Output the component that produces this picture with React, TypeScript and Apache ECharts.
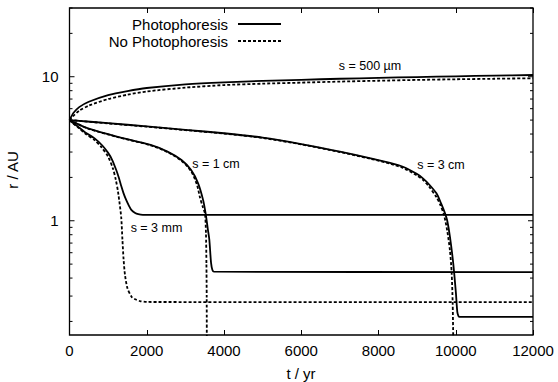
import React, { useEffect, useRef } from 'react';
import * as echarts from 'echarts';

// time axis (yr) and radius axis (AU) settings
const T_MAX = 12000;
const T_STEP = 2000;
const R_MIN = 0.161;
const R_MAX = 30;
const rMajorTicks = [1, 10];
const rMinorTicks = [0.2, 0.3, 0.4, 0.5, 0.6, 0.7, 0.8, 0.9, 2, 3, 4, 5, 6, 7, 8, 9, 20, 30];

// s = 500 µm
const t500Photo = [0, 50, 100, 250, 500, 1000, 1500, 2000, 3000, 4000, 5000, 6000, 7000, 8000, 9000, 10000, 11000, 12000];
const r500Photo = [5, 5.3, 5.6, 6.15, 6.7, 7.45, 7.95, 8.35, 8.85, 9.15, 9.35, 9.52, 9.68, 9.82, 9.95, 10.07, 10.18, 10.28];
const t500NoPhoto = [0, 50, 100, 250, 500, 1000, 1500, 2000, 3000, 4000, 5000, 6000, 7000, 8000, 9000, 10000, 11000, 12000];
const r500NoPhoto = [5, 5.18, 5.35, 5.8, 6.3, 7.0, 7.5, 7.9, 8.4, 8.75, 8.95, 9.1, 9.25, 9.38, 9.5, 9.6, 9.68, 9.76];

// s = 3 cm
const t3cmPhoto = [0, 1000, 2000, 3000, 4000, 5000, 6000, 7000, 7800, 8300, 8633, 9000, 9150, 9300, 9500, 9620, 9720, 9780, 9850, 9935, 10005, 10040, 10070, 10100, 12000];
const r3cmPhoto = [5, 4.76, 4.52, 4.28, 4.05, 3.78, 3.41, 3.02, 2.71, 2.52, 2.37, 2.11, 1.97, 1.8, 1.55, 1.32, 1.13, 1.0, 0.774, 0.506, 0.313, 0.233, 0.218, 0.215, 0.215];
const t3cmNoPhoto = [0, 1000, 2000, 3000, 4000, 5000, 6000, 7000, 7800, 8300, 8633, 9000, 9150, 9300, 9500, 9600, 9695, 9780, 9850, 9893, 9920, 9935, 9945];
const r3cmNoPhoto = [5, 4.74, 4.5, 4.26, 4.03, 3.76, 3.39, 3.0, 2.69, 2.49, 2.33, 2.06, 1.92, 1.74, 1.46, 1.29, 1.1, 0.85, 0.62, 0.44, 0.27, 0.15, 0.08];

// s = 1 cm
const t1cmPhoto = [0, 220, 500, 1250, 2100, 2550, 2900, 3150, 3330, 3460, 3530, 3580, 3620, 3665, 3700, 3740, 12000];
const r1cmPhoto = [5, 4.69, 4.36, 3.83, 3.36, 3.01, 2.64, 2.25, 1.82, 1.39, 1.1, 0.88, 0.74, 0.51, 0.455, 0.443, 0.44];
const t1cmNoPhoto = [0, 220, 500, 1250, 2100, 2550, 2900, 3150, 3300, 3378, 3450, 3508, 3533, 3545, 3552, 3556];
const r1cmNoPhoto = [5, 4.68, 4.34, 3.81, 3.34, 2.99, 2.61, 2.2, 1.78, 1.45, 1.25, 1.12, 0.82, 0.5, 0.3, 0.1];

// s = 3 mm
const t3mmPhoto = [0, 100, 220, 400, 650, 850, 1000, 1100, 1210, 1280, 1340, 1400, 1470, 1540, 1600, 1700, 1780, 1900, 12000];
const r3mmPhoto = [5, 4.75, 4.5, 4.12, 3.73, 3.33, 2.96, 2.66, 2.25, 1.98, 1.74, 1.55, 1.39, 1.27, 1.19, 1.13, 1.11, 1.1, 1.1];
const t3mmNoPhoto = [0, 100, 220, 400, 650, 820, 1000, 1126, 1200, 1255, 1300, 1340, 1370, 1400, 1437, 1500, 1610, 1700, 1825, 2000, 12000];
const r3mmNoPhoto = [5, 4.72, 4.45, 4.05, 3.63, 3.26, 2.78, 2.3, 1.92, 1.6, 1.3, 1.05, 0.74, 0.54, 0.42, 0.34, 0.296, 0.285, 0.277, 0.273, 0.272];

const FONT = "'Liberation Sans', Arial, Helvetica, sans-serif";

const pairs = (t: number[], r: number[]) => t.map((x, i) => [x, r[i]]);

const solid = { color: '#000', width: 1.8, type: 'solid' as const };
const dashed = { color: '#000', width: 1.8, type: [3, 2] as number[] };

function line(name: string, t: number[], r: number[], style: any) {
  return {
    type: 'line',
    name,
    data: pairs(t, r),
    showSymbol: false,
    symbol: 'none',
    smooth: 0.25,
    clip: true,
    lineStyle: style,
    z: style.type === 'solid' ? 3 : 2,
  };
}

export default function App() {
  const ref = useRef<HTMLDivElement>(null);

  useEffect(() => {
    document.body.style.margin = '0';
    if (!ref.current) return;
    const chart = echarts.init(ref.current, undefined, { renderer: 'svg' });

    const tickData = [
      ...rMajorTicks.map((v) => [0, v, 1]),
      ...rMinorTicks.map((v) => [0, v, 0]),
    ];

    const isDecade = (v: number) => {
      const l = Math.log10(v);
      return Math.abs(l - Math.round(l)) < 1e-6;
    };

    chart.setOption({
      animation: false,
      backgroundColor: '#fff',
      textStyle: { fontFamily: FONT, color: '#000' },
      grid: {
        left: 69.5,
        top: 8,
        right: 25,
        bottom: 47,
        show: true,
        borderColor: '#000',
        borderWidth: 1.3,
        backgroundColor: 'transparent',
      },
      xAxis: [
        {
          type: 'value',
          min: 0,
          max: T_MAX,
          interval: T_STEP,
          position: 'bottom',
          axisLine: { show: false },
          axisTick: { show: true, inside: true, length: 5, lineStyle: { color: '#000', width: 1 } },
          axisLabel: { color: '#000', fontSize: 15, fontFamily: FONT, margin: 8, formatter: (v: number) => String(v) },
          splitLine: { show: false },
        },
        {
          type: 'value',
          min: 0,
          max: T_MAX,
          interval: T_STEP,
          position: 'top',
          axisLine: { show: false },
          axisTick: { show: true, inside: true, length: 5, lineStyle: { color: '#000', width: 1 } },
          axisLabel: { show: false },
          splitLine: { show: false },
        },
      ],
      yAxis: {
        type: 'log',
        logBase: 10,
        min: R_MIN,
        max: R_MAX,
        axisLine: { show: false },
        axisTick: { show: false },
        splitLine: { show: false },
        axisLabel: {
          color: '#000',
          fontSize: 15,
          fontFamily: FONT,
          margin: 11,
          formatter: (v: number) => (isDecade(v) && v >= 1 && v <= 10 ? String(Math.round(v)) : ''),
        },
      },
      series: [
        line('s = 500 µm, no photophoresis', t500NoPhoto, r500NoPhoto, dashed),
        line('s = 500 µm, photophoresis', t500Photo, r500Photo, solid),
        line('s = 3 cm, no photophoresis', t3cmNoPhoto, r3cmNoPhoto, dashed),
        line('s = 3 cm, photophoresis', t3cmPhoto, r3cmPhoto, solid),
        line('s = 1 cm, no photophoresis', t1cmNoPhoto, r1cmNoPhoto, dashed),
        line('s = 1 cm, photophoresis', t1cmPhoto, r1cmPhoto, solid),
        line('s = 3 mm, no photophoresis', t3mmNoPhoto, r3mmNoPhoto, dashed),
        line('s = 3 mm, photophoresis', t3mmPhoto, r3mmPhoto, solid),
        {
          // inward y ticks on the left and right frame edges
          type: 'custom',
          data: tickData,
          encode: { x: 0, y: 1 },
          silent: true,
          z: 5,
          renderItem: (params: any, api: any) => {
            const v = api.value(1);
            const major = api.value(2) === 1;
            const left = api.coord([0, v]);
            const right = api.coord([T_MAX, v]);
            const len = major ? 5 : 3;
            const style = { stroke: '#000', lineWidth: 1 };
            return {
              type: 'group',
              children: [
                { type: 'line', shape: { x1: left[0], y1: left[1], x2: left[0] + len, y2: left[1] }, style },
                { type: 'line', shape: { x1: right[0], y1: right[1], x2: right[0] - len, y2: right[1] }, style },
              ],
            };
          },
        },
      ],
      graphic: [
        // legend
        { type: 'text', x: 228, y: 24, style: { text: 'Photophoresis', font: `15px ${FONT}`, fill: '#000', align: 'right', verticalAlign: 'middle' } },
        { type: 'line', shape: { x1: 238, y1: 24, x2: 281, y2: 24 }, style: { stroke: '#000', lineWidth: 1.8 } },
        { type: 'text', x: 228, y: 41, style: { text: 'No Photophoresis', font: `15px ${FONT}`, fill: '#000', align: 'right', verticalAlign: 'middle' } },
        { type: 'line', shape: { x1: 238, y1: 41, x2: 281, y2: 41 }, style: { stroke: '#000', lineWidth: 1.8, lineDash: [3, 2] } },
        // curve labels
        { type: 'text', x: 370, y: 66, style: { text: 's = 500 µm', font: `12.5px ${FONT}`, fill: '#000', align: 'center', verticalAlign: 'middle' } },
        { type: 'text', x: 216, y: 164, style: { text: 's = 1 cm', font: `12.5px ${FONT}`, fill: '#000', align: 'center', verticalAlign: 'middle' } },
        { type: 'text', x: 441, y: 165, style: { text: 's = 3 cm', font: `12.5px ${FONT}`, fill: '#000', align: 'center', verticalAlign: 'middle' } },
        { type: 'text', x: 156.5, y: 228, style: { text: 's = 3 mm', font: `12.5px ${FONT}`, fill: '#000', align: 'center', verticalAlign: 'middle' } },
        // axis titles
        { type: 'text', x: 301, y: 373, style: { text: 't / yr', font: `15px ${FONT}`, fill: '#000', align: 'center', verticalAlign: 'middle' } },
        { type: 'text', x: 12, y: 170, rotation: Math.PI / 2, style: { text: 'r / AU', font: `15px ${FONT}`, fill: '#000', align: 'center', verticalAlign: 'middle' } },
      ],
    });

    return () => {
      chart.dispose();
    };
  }, []);

  return <div ref={ref} style={{ width: 558, height: 382 }} />;
}
